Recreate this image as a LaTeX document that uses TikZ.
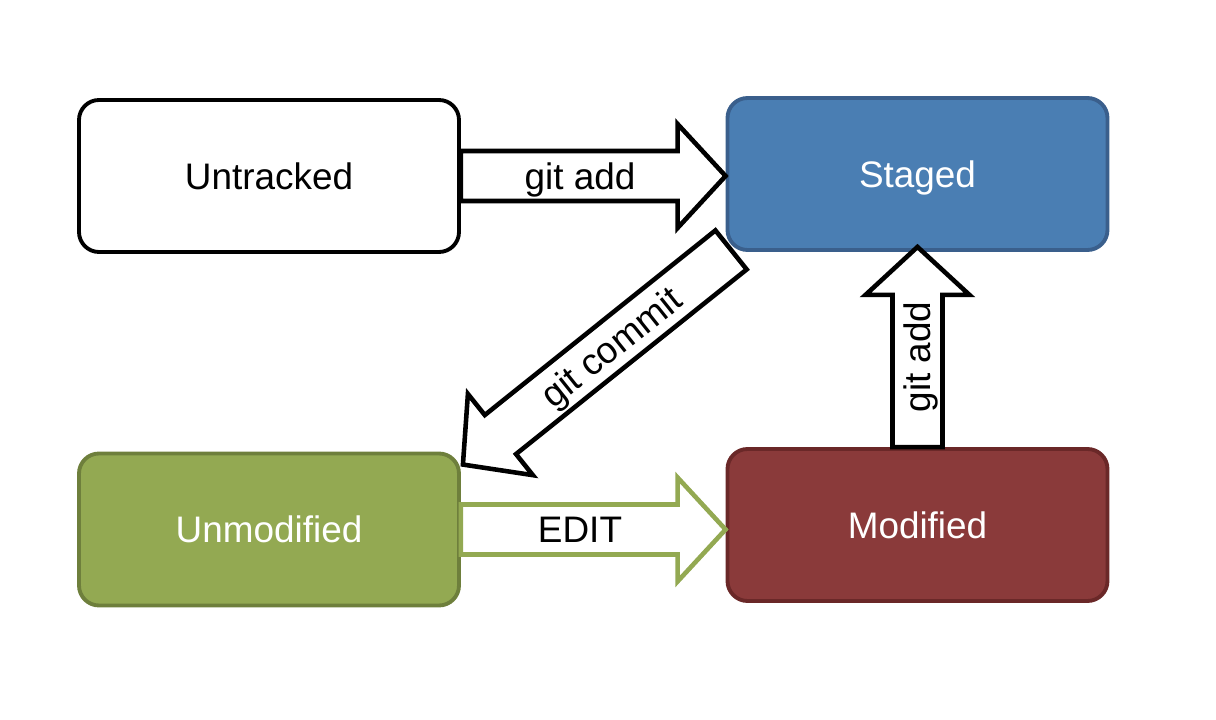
\documentclass[tikz,border=0pt]{standalone}
\usepackage{fontspec}
\setmainfont{Liberation Sans}
\usepackage{tikz}
\usetikzlibrary{positioning,calc}
\definecolor{stagedblue}{HTML}{4A7EB3}
\definecolor{stagededge}{HTML}{3A5F8C}
\definecolor{unmodgreen}{HTML}{93A952}
\definecolor{unmodedge}{HTML}{6E7F3C}
\definecolor{modred}{HTML}{8A3A3A}
\definecolor{modedge}{HTML}{6A2828}
\tikzset{
    filestate/.style={
        draw,
        rectangle,
        rounded corners=0.4cm,
        line width=2.2pt,
        minimum width=7.6cm,
        minimum height=3.04cm,
        text height=15.3pt,
        text depth=0pt,
        font=\fontsize{21}{25}\selectfont
    },
    fatarrow/.style={
        draw=black,
        fill=white,
        line width=2.6pt,
        line join=miter
    },
    arrowlabel/.style={
        text height=15.3pt,
        text depth=0pt,
        font=\fontsize{21}{25}\selectfont
    }
}
% block arrow: [style] {from} {to} {label}
\newcommand{\blockarrow}[4][]{%
  \coordinate (ba-s) at (#2);
  \coordinate (ba-e) at (#3);
  \coordinate (ba-h) at ($(ba-e)!0.96cm!(ba-s)$);
  \draw[fatarrow,#1] ($(ba-s)!0.5cm!90:(ba-e)$) -- ($(ba-h)!0.5cm!90:(ba-e)$)
    -- ($(ba-h)!1.04cm!90:(ba-e)$) -- (ba-e) -- ($(ba-h)!1.04cm!-90:(ba-e)$)
    -- ($(ba-h)!0.5cm!-90:(ba-e)$) -- ($(ba-s)!0.5cm!-90:(ba-e)$) -- cycle;
  \path (ba-s) -- (ba-e) node[pos=0.45, sloped, arrowlabel] {#4};
}

\begin{document}
\begin{tikzpicture}
  \useasboundingbox (0,0) rectangle (24.32,14.4);

  % The four states of a file
  \node[filestate, fill=white] (untracked) at (5.38,10.88) {Untracked};
  \node[filestate, fill=stagedblue, draw=stagededge, text=white] (staged) at (18.35,10.92) {Staged};
  \node[filestate, fill=unmodgreen, draw=unmodedge, text=white] (unmodified) at (5.38,3.81) {Unmodified};
  \node[filestate, fill=modred, draw=modedge, text=white] (modified) at (18.35,3.9) {Modified};

  % Transitions between the states
  \blockarrow{untracked.east}{untracked.east -| staged.west}{git add}
  \blockarrow{[shift={(0.11,0.04)}]staged.south west}{[shift={(0.04,-0.26)}]unmodified.north east}{git commit}
  \blockarrow[draw=unmodgreen]{unmodified.east}{unmodified.east -| modified.west}{EDIT}
  \blockarrow{modified.north}{[yshift=0.1cm]staged.south}{git add}
\end{tikzpicture}
\end{document}
